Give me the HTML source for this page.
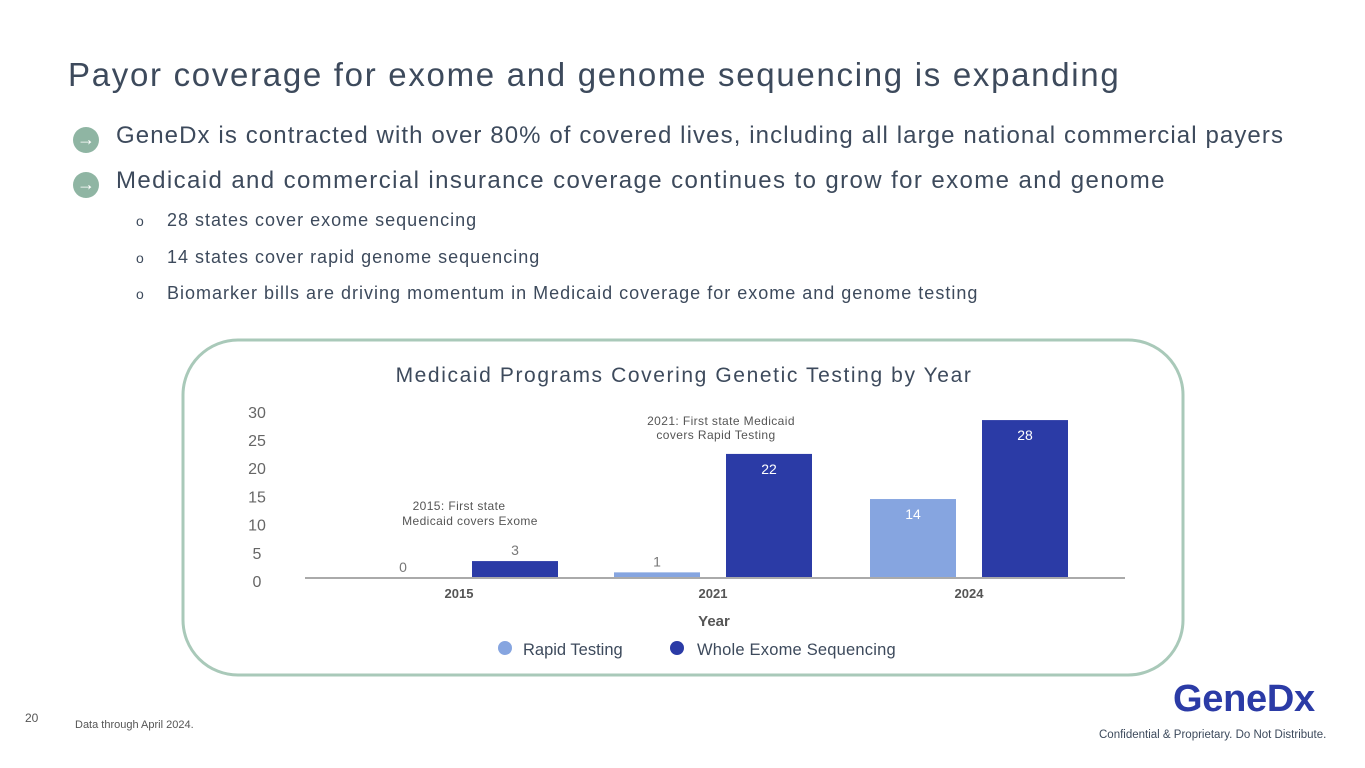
<!DOCTYPE html>
<html><head><meta charset="utf-8"><style>
body{margin:0;width:1365px;height:768px;background:#fff;font-family:"Liberation Sans",sans-serif;position:relative;overflow:hidden;color:#3d4a5c}
.abs{position:absolute;white-space:nowrap}
.arrow{position:absolute;width:26px;height:26px;border-radius:50%;background:#8fb5a3;color:#fff;font-size:18px;line-height:25px;text-align:center}
.o{font-size:14px;display:inline-block;width:31px}
</style></head><body>
<div class="abs" style="left:68px;top:56px;font-size:33px;letter-spacing:1.7px;color:#3d4a5c">Payor coverage for exome and genome sequencing is expanding</div>
<div class="arrow" style="left:73px;top:127px">→</div>
<div class="abs" style="left:116px;top:122px;font-size:24px;letter-spacing:1.1px">GeneDx is contracted with over 80% of covered lives, including all large national commercial payers</div>
<div class="arrow" style="left:73px;top:172px">→</div>
<div class="abs" style="left:116px;top:167px;font-size:24px;letter-spacing:1.4px">Medicaid and commercial insurance coverage continues to grow for exome and genome</div>
<div class="abs" style="left:136px;top:210px;font-size:18px;letter-spacing:1px"><span class="o">o</span>28 states cover exome sequencing</div>
<div class="abs" style="left:136px;top:247px;font-size:18px;letter-spacing:1px"><span class="o">o</span>14 states cover rapid genome sequencing</div>
<div class="abs" style="left:136px;top:283px;font-size:18px;letter-spacing:1px"><span class="o">o</span>Biomarker bills are driving momentum in Medicaid coverage for exome and genome testing</div>

<svg width="1365" height="768" style="position:absolute;left:0;top:0" id="chart" font-family="Liberation Sans, sans-serif">
<rect x="183" y="340" width="1000" height="335" rx="55" fill="none" stroke="#a9c9b9" stroke-width="3"/>
<text x="684" y="382" text-anchor="middle" font-size="21" fill="#3d4a5c" letter-spacing="1.6">Medicaid Programs Covering Genetic Testing by Year</text>
<g id="ticks"></g><g id="bars"></g>
<line x1="305" y1="578" x2="1125" y2="578" stroke="#aaa" stroke-width="2"/>
<text x="714" y="626" text-anchor="middle" font-size="15" font-weight="bold" fill="#555">Year</text>
<text x="459" y="510" text-anchor="middle" font-size="12" fill="#555" letter-spacing="0.4"><tspan x="459">2015: First state</tspan><tspan x="470" dy="15">Medicaid covers Exome</tspan></text>
<text x="721" y="425" text-anchor="middle" font-size="12" fill="#555" letter-spacing="0.4"><tspan x="721">2021: First state Medicaid</tspan><tspan x="716" dy="14">covers Rapid Testing</tspan></text>
<circle cx="505" cy="648" r="7" fill="#86a5e0"/>
<text x="523" y="655" font-size="16.5" fill="#3d4a5c">Rapid Testing</text>
<circle cx="677" cy="648" r="7" fill="#2b3ba6"/>
<text x="697" y="655" font-size="16.5" fill="#3d4a5c" letter-spacing="0.2">Whole Exome Sequencing</text>
</svg>

<div class="abs" style="left:25px;top:711px;font-size:12px;color:#555">20</div>
<div class="abs" style="left:75px;top:719px;font-size:11px;color:#555">Data through April 2024.</div>
<div class="abs" style="left:1173px;top:678px;font-size:38px;font-weight:bold;color:#2b3ba6;letter-spacing:-0.3px">GeneDx</div>
<div class="abs" style="left:1099px;top:729px;font-size:11.5px;color:#3d4a5c">Confidential &amp; Proprietary. Do Not Distribute.</div>

<script>
const categories=["2015","2021","2024"];
const rapid=[0,1,14];
const wes=[3,22,28];
const yTicks=[0,5,10,15,20,25,30];
const NS="http://www.w3.org/2000/svg";
const y=v=>578-v*5.64;
const centers=[459,713,969];
const bw=86, half=13;
function mk(t,a,parent){const e=document.createElementNS(NS,t);for(const k in a)e.setAttribute(k,a[k]);parent.appendChild(e);return e;}
const tg=document.getElementById('ticks'),bg=document.getElementById('bars');
yTicks.forEach(v=>{const t=mk('text',{x:257,y:y(v)+9,'text-anchor':'middle','font-size':16,fill:'#666'},tg);t.textContent=v;

});
categories.forEach((c,i)=>{
 const cx=centers[i];
 const lt=mk('text',{x:cx,y:598,'text-anchor':'middle','font-size':13,'font-weight':'bold',fill:'#555'},bg);lt.textContent=c;
 
 
 [[rapid[i],cx-bw-half,'#86a5e0','bar-rapid'],[wes[i],cx+half,'#2b3ba6','bar-wes']].forEach(([v,x,col,nm])=>{
  const r=mk('rect',{x:x,y:y(v),width:bw,height:578-y(v),fill:col},bg);
  
  
  const inside=(578-y(v))>30;
  const lb=mk('text',{x:x+bw/2,y:inside?y(v)+20:y(v)-6,'text-anchor':'middle','font-size':14,fill:inside?'#fff':'#777'},bg);
  lb.textContent=v;
  
  
 });
});
</script>
</body></html>
